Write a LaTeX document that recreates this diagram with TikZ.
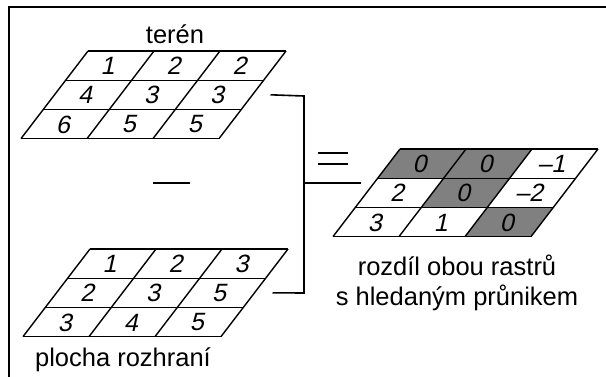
\documentclass[tikz,border=0pt]{standalone}
\usepackage{fontspec}
\setmainfont{Liberation Sans}
\newfontfamily\numfont[FakeSlant=0.22,Ligatures=TeX]{Liberation Sans}
\tikzset{
  num/.style={inner sep=0pt, font=\fontsize{25}{25}\selectfont\numfont},
  lbl/.style={inner sep=0pt, font=\fontsize{25.5}{30}\selectfont, align=center},
  gridline/.style={line width=1.4pt},
  cellfill/.style={fill=black!50},
  frame/.style={line width=2.6pt},
  conn/.style={line width=1.6pt},
  opbar/.style={line width=2.8pt}
}
% #1 name, #2 x0, #3 y0, #4 values, #5 list of gray cells (r/c)
\newcommand\mygrid[5]{%
  \foreach \r/\c in {#5} {
    \fill[cellfill] ({#2+\c*66-\r*22.33},{#3+\r*29.2}) -- ++(66,0) -- ++(-22.33,29.2) -- ++(-66,0) -- cycle;
  }
  \foreach \r in {0,1,2,3} {
    \draw[gridline] ({#2-\r*22.33},{#3+\r*29.2}) -- ++(198,0);
  }
  \foreach \c in {0,1,2,3} {
    \draw[gridline] ({#2+\c*66},{#3}) -- ++(-67,87.6);
  }
  \foreach \v [count=\k from 0] in {#4} {
    \pgfmathtruncatemacro\ri{floor(\k/3)}
    \pgfmathtruncatemacro\ci{mod(\k,3)}
    \node[num] (#1-\ri-\ci) at ({#2+\ci*66-\ri*22.33+33-13.5},{#3+\ri*29.2+15}) {\v};
  }
  \coordinate (#1-e) at ({#2+198-33.5},{#3+43.8});
}
\begin{document}
\begin{tikzpicture}[x=1pt,y=-1pt]
\useasboundingbox (0,0) rectangle (606,376);
% frame
\draw[frame] (9,380) -- (9,7) -- (610,7);
% grids
\mygrid{A}{88}{51}{1,2,2,4,3,3,6,5,5}{}
\mygrid{B}{90}{249}{1,2,3,2,3,5,3,4,5}{}
\mygrid{C}{400}{149}{0,0,–1,2,0,–2,3,1,0}{0/0,0/1,1/1,2/2}
% labels
\node[lbl] (tA) at (175,34) {terén};
\node[lbl] (tB) at (123,360) {plocha rozhraní};
\node[lbl] (tC) at (457,283) {rozdíl obou rastrů\\s hledaným průnikem};
% operators
\coordinate (minusL) at (153,183);
\coordinate (minusR) at (190,183);
\draw[opbar] (minusL) -- (minusR);
\coordinate (eqL) at (318,153);
\draw[opbar] (eqL) -- ++(30,0);
\draw[opbar] ([yshift=-11pt]eqL) -- ++(30,0);
% bracket connectors
\coordinate (brT) at (304,96);
\coordinate (brB) at (304,293);
\coordinate (brM) at (304,183);
\coordinate (Cin) at (361,183);
\draw[conn] ([xshift=18pt]A-e) -- (brT) -- (brB) -- ([xshift=18pt]B-e);
\draw[conn] (brM) -- (Cin);
\end{tikzpicture}
\end{document}
